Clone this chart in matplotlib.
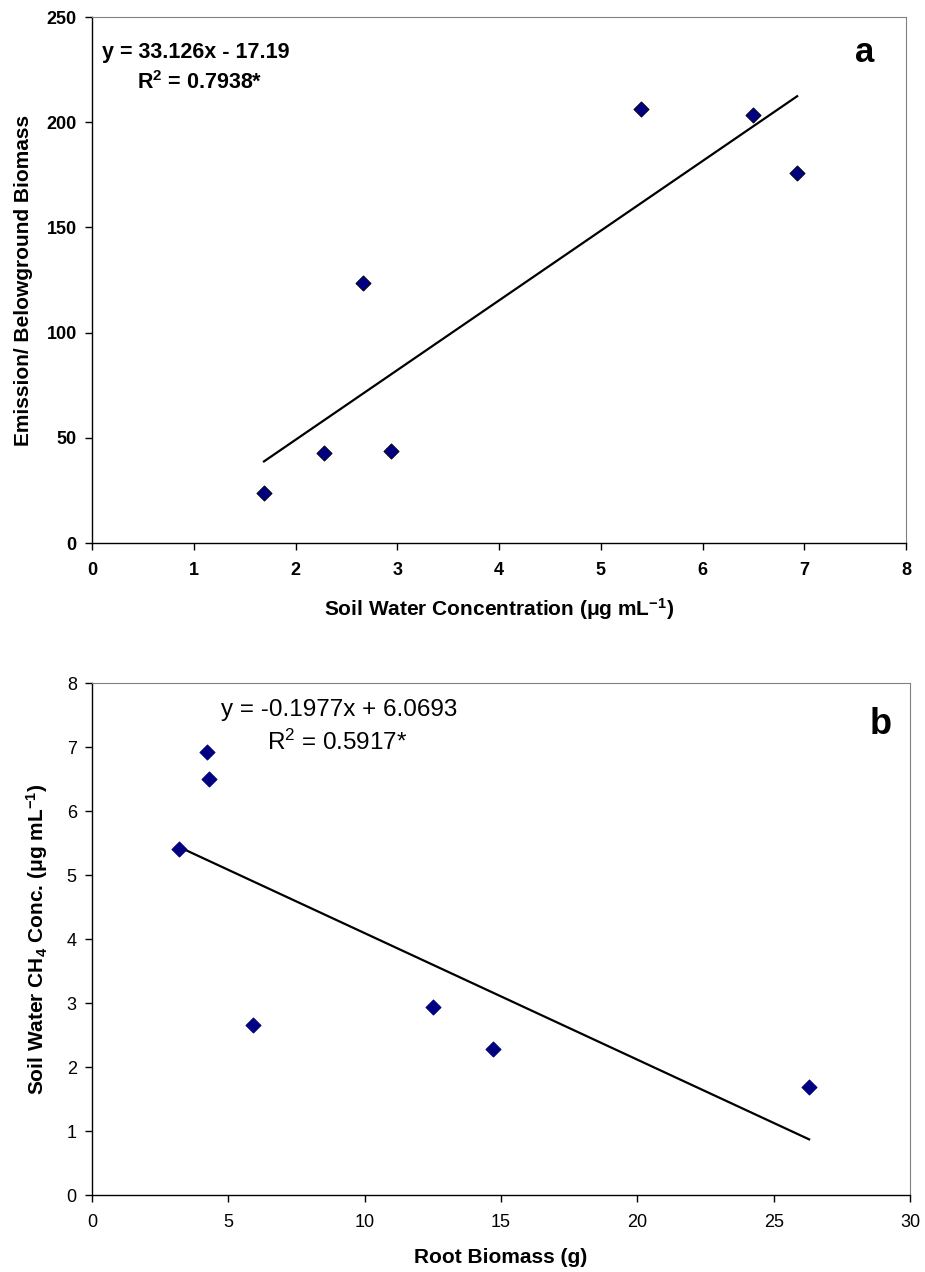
import matplotlib.pyplot as plt
import numpy as np

plt.rcParams['font.family'] = ['Liberation Sans', 'DejaVu Sans']
plt.rcParams['mathtext.fontset'] = 'custom'
plt.rcParams['mathtext.rm'] = 'Liberation Sans'
plt.rcParams['mathtext.it'] = 'Liberation Sans:italic'
plt.rcParams['mathtext.bf'] = 'Liberation Sans:bold'

# panel a: emission / belowground biomass vs soil water CH4 concentration
conc_a = [1.69, 2.28, 2.66, 2.94, 5.40, 6.50, 6.93]
emis_a = [23.6, 42.9, 123.4, 43.9, 206.5, 203.3, 175.8]
slope_a, icpt_a = 33.126, -17.19

# panel b: soil water CH4 concentration vs root biomass
root_b = [3.2, 4.2, 4.3, 5.9, 12.5, 14.7, 26.3]
conc_b = [5.40, 6.93, 6.50, 2.66, 2.94, 2.28, 1.69]
slope_b, icpt_b = -0.1977, 6.0693

fig = plt.figure(figsize=(9.25, 12.72), dpi=100)
ax1 = fig.add_axes([0.0995, 0.5731, 0.88, 0.4135])
ax2 = fig.add_axes([0.0995, 0.0605, 0.8843, 0.4025])


def style_axes(ax, bold):
    for s in ['top', 'right']:
        ax.spines[s].set_color('#808080')
    for s in ['left', 'bottom']:
        ax.spines[s].set_color('black')
        ax.spines[s].set_linewidth(1.0)
    ax.tick_params(direction='out', length=5, width=1, top=False, right=False,
                   labelsize=13)
    ax.tick_params(axis='x', pad=9)
    ax.tick_params(axis='y', pad=6)
    for lab in ax.get_xticklabels() + ax.get_yticklabels():
        lab.set_fontweight('bold' if bold else 'normal')


# panel a
ax1.scatter(conc_a, emis_a, marker='D', s=60, color='#000080',
            edgecolors='black', linewidths=0.6, zorder=3)
xa = np.array([min(conc_a), max(conc_a)])
ax1.plot(xa, slope_a * xa + icpt_a, color='black', linewidth=1.6)
ax1.set_xlim(0, 8)
ax1.set_ylim(0, 250)
ax1.set_xticks(range(0, 9))
ax1.set_yticks(range(0, 251, 50))
style_axes(ax1, True)
ax1.set_xlabel(r'Soil Water Concentration ($\mathbf{\mu}$g mL$^{\mathbf{-1}}$)',
               fontsize=15, fontweight='bold', labelpad=12)
ax1.set_ylabel('Emission/ Belowground Biomass', fontsize=15,
               fontweight='bold', labelpad=10)
ax1.text(0.012, 0.932, 'y = 33.126x - 17.19', transform=ax1.transAxes,
         fontsize=15.5, fontweight='bold', va='center')
ax1.text(0.055, 0.876, r'R$^{\mathbf{2}}$ = 0.7938*', transform=ax1.transAxes,
         fontsize=15.5, fontweight='bold', va='center')
ax1.text(0.949, 0.932, 'a', transform=ax1.transAxes, fontsize=25,
         fontweight='bold', ha='center', va='center')

# panel b
ax2.scatter(root_b, conc_b, marker='D', s=60, color='#000080',
            edgecolors='#000080', linewidths=0.6, zorder=3)
xb = np.array([min(root_b), max(root_b)])
ax2.plot(xb, slope_b * xb + icpt_b, color='black', linewidth=1.6)
ax2.set_xlim(0, 30)
ax2.set_ylim(0, 8)
ax2.set_xticks(range(0, 31, 5))
ax2.set_yticks(range(0, 9))
style_axes(ax2, False)
ax2.set_xlabel('Root Biomass (g)', fontsize=15, fontweight='bold', labelpad=12)
ax2.set_ylabel(r'Soil Water CH$_{\mathbf{4}}$ Conc. ($\mathbf{\mu}$g mL$^{\mathbf{-1}}$)',
               fontsize=15, fontweight='bold', labelpad=12)
ax2.text(0.302, 0.947, 'y = -0.1977x + 6.0693', transform=ax2.transAxes,
         fontsize=17.5, ha='center', va='center')
ax2.text(0.30, 0.885, r'R$^2$ = 0.5917*', transform=ax2.transAxes,
         fontsize=17.5, ha='center', va='center')
ax2.text(0.964, 0.92, 'b', transform=ax2.transAxes, fontsize=26,
         fontweight='bold', ha='center', va='center')

fig.savefig('out.png', dpi=100)
